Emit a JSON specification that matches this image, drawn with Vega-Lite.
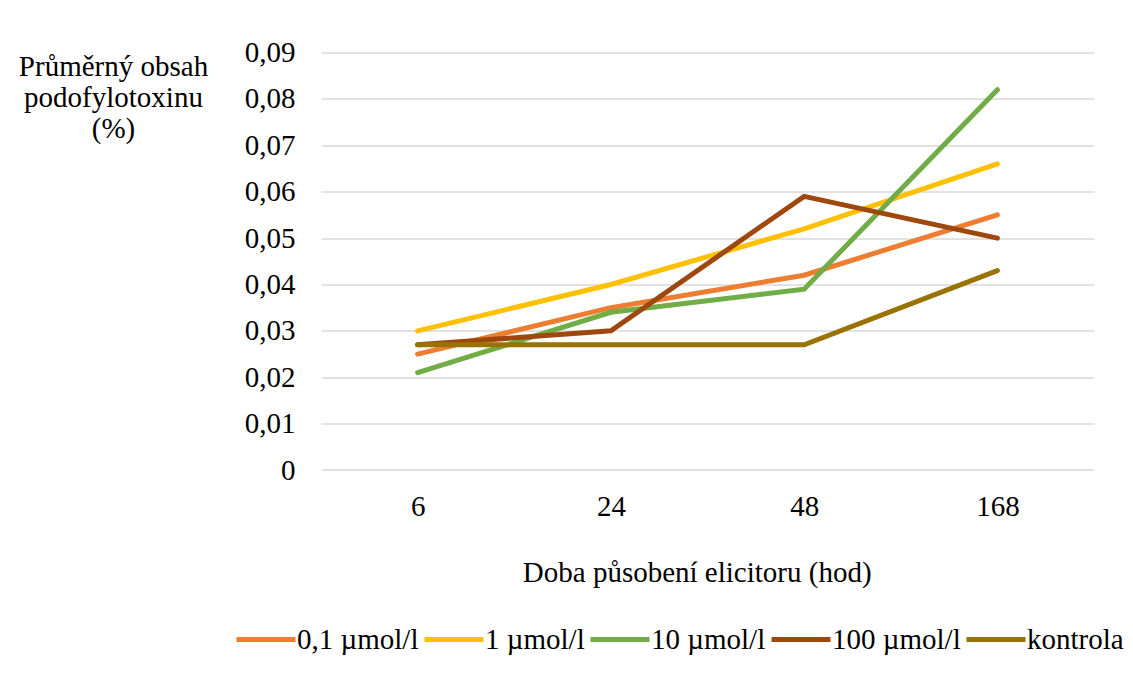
{
  "$schema": "https://vega.github.io/schema/vega-lite/v6.json",
  "width": 773,
  "height": 417.4,
  "autosize": {"type": "none"},
  "padding": {"left": 321, "top": 52.6, "right": 39, "bottom": 214},
  "background": "white",
  "config": {
    "font": "Liberation Serif",
    "view": {"stroke": null}
  },
  "data": {
    "values": [
      {"doba": "6", "serie": "0,1 µmol/l", "obsah": 0.025},
      {"doba": "24", "serie": "0,1 µmol/l", "obsah": 0.035},
      {"doba": "48", "serie": "0,1 µmol/l", "obsah": 0.042},
      {"doba": "168", "serie": "0,1 µmol/l", "obsah": 0.055},
      {"doba": "6", "serie": "1 µmol/l", "obsah": 0.030},
      {"doba": "24", "serie": "1 µmol/l", "obsah": 0.040},
      {"doba": "48", "serie": "1 µmol/l", "obsah": 0.052},
      {"doba": "168", "serie": "1 µmol/l", "obsah": 0.066},
      {"doba": "6", "serie": "10 µmol/l", "obsah": 0.021},
      {"doba": "24", "serie": "10 µmol/l", "obsah": 0.034},
      {"doba": "48", "serie": "10 µmol/l", "obsah": 0.039},
      {"doba": "168", "serie": "10 µmol/l", "obsah": 0.082},
      {"doba": "6", "serie": "100 µmol/l", "obsah": 0.027},
      {"doba": "24", "serie": "100 µmol/l", "obsah": 0.030},
      {"doba": "48", "serie": "100 µmol/l", "obsah": 0.059},
      {"doba": "168", "serie": "100 µmol/l", "obsah": 0.050},
      {"doba": "6", "serie": "kontrola", "obsah": 0.027},
      {"doba": "24", "serie": "kontrola", "obsah": 0.027},
      {"doba": "48", "serie": "kontrola", "obsah": 0.027},
      {"doba": "168", "serie": "kontrola", "obsah": 0.043}
    ]
  },
  "mark": {"type": "line", "strokeWidth": 5, "strokeCap": "round", "strokeJoin": "miter"},
  "encoding": {
    "x": {
      "field": "doba",
      "type": "ordinal",
      "sort": ["6", "24", "48", "168"],
      "scale": {"padding": 0.5},
      "axis": {
        "title": "Doba působení elicitoru (hod)",
        "titleFont": "Liberation Serif",
        "titleFontSize": 29,
        "titleFontWeight": "normal",
        "titleColor": "black",
        "titleAlign": "center",
        "titleBaseline": "alphabetic",
        "titleX": 375.7,
        "titleY": 111,
        "labelAngle": 0,
        "labelFont": "Liberation Serif",
        "labelFontSize": 29,
        "labelColor": "black",
        "labelBaseline": "alphabetic",
        "labelPadding": 45,
        "ticks": false,
        "domain": false,
        "grid": false
      }
    },
    "y": {
      "field": "obsah",
      "type": "quantitative",
      "scale": {"domain": [0, 0.09], "nice": false, "zero": true},
      "axis": {
        "title": ["Průměrný obsah", "podofylotoxinu", "(%)"],
        "titleFont": "Liberation Serif",
        "titleFontSize": 29,
        "titleFontWeight": "normal",
        "titleColor": "black",
        "titleAngle": 0,
        "titleAlign": "center",
        "titleBaseline": "alphabetic",
        "titleLineHeight": 31,
        "titleX": -208,
        "titleY": 23,
        "values": [0, 0.01, 0.02, 0.03, 0.04, 0.05, 0.06, 0.07, 0.08, 0.09],
        "labelExpr": "datum.value == 0 ? '0' : replace(format(datum.value, '.2f'), '.', ',')",
        "labelFont": "Liberation Serif",
        "labelFontSize": 29,
        "labelColor": "black",
        "labelPadding": 26,
        "ticks": false,
        "domain": false,
        "grid": true,
        "gridColor": "#d9d9d9",
        "gridWidth": 1.5
      }
    },
    "color": {
      "field": "serie",
      "type": "nominal",
      "sort": ["0,1 µmol/l", "1 µmol/l", "10 µmol/l", "100 µmol/l", "kontrola"],
      "scale": {
        "domain": ["0,1 µmol/l", "1 µmol/l", "10 µmol/l", "100 µmol/l", "kontrola"],
        "range": ["#ED7D31", "#FFC000", "#70AD47", "#9E480E", "#997300"]
      },
      "legend": {
        "title": null,
        "orient": "none",
        "direction": "horizontal",
        "legendX": -87,
        "legendY": 555,
        "symbolType": "stroke",
        "symbolSize": 3481,
        "symbolStrokeWidth": 5,
        "labelFontSize": 29,
        "labelFont": "Liberation Serif",
        "labelColor": "black",
        "labelOffset": -1,
        "labelLimit": 0,
        "columnPadding": -5,
        "symbolOffset": 0
      }
    }
  }
}
